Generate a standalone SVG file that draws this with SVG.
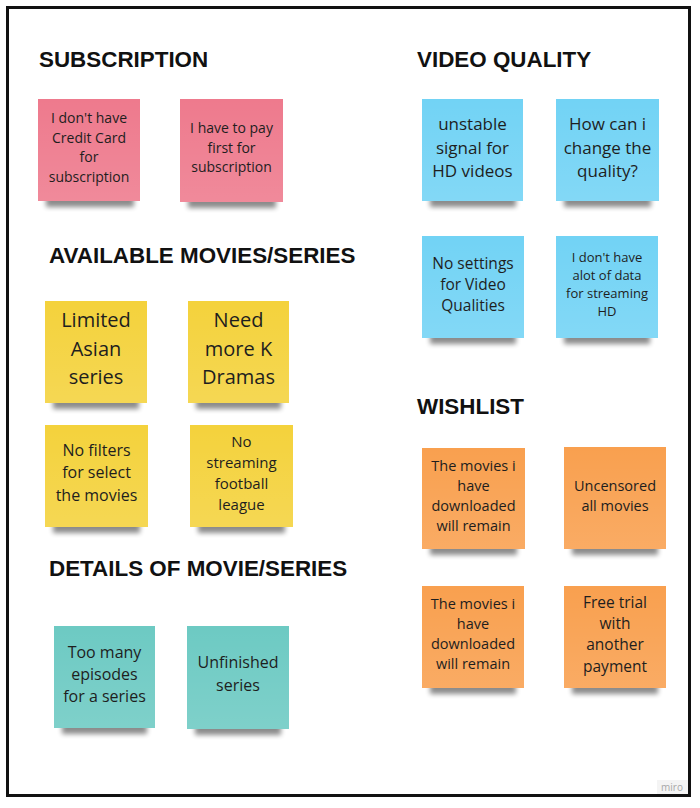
<svg xmlns="http://www.w3.org/2000/svg" width="700" height="808" viewBox="0 0 700 808">
<style>
.h{font-family:"Liberation Sans",Arial,sans-serif;font-weight:bold;font-size:22.4px;fill:#111}
.t{font-family:"Open Sans","Noto Sans",sans-serif;fill:#1e1e1e;text-anchor:middle}
.pink{fill:#EE7A8D}
.blue{fill:#72D3F5}
.yel{fill:#F4D23C}
.org{fill:#F9A04F}
.teal{fill:#6DCAC3}
.sh{fill:#000;opacity:0.45;filter:url(#blur)}
.gl{fill:url(#gloss)}
</style>
<defs>
<filter id="blur" x="-20%" y="-100%" width="140%" height="300%"><feGaussianBlur stdDeviation="2.8"/></filter>
<linearGradient id="gloss" x1="0" y1="0" x2="0" y2="1">
<stop offset="0" stop-color="#fff" stop-opacity="0"/>
<stop offset="1" stop-color="#fff" stop-opacity="0.12"/>
</linearGradient>
</defs>
<rect x="0" y="0" width="700" height="808" fill="#fff"/>
<rect x="7.5" y="7.5" width="682" height="788" fill="#fff" stroke="#111" stroke-width="3"/>

<text class="h" x="39" y="67">SUBSCRIPTION</text>
<text class="h" x="417" y="67">VIDEO QUALITY</text>
<text class="h" x="49" y="263">AVAILABLE MOVIES/SERIES</text>
<text class="h" x="417" y="414">WISHLIST</text>
<text class="h" x="49" y="576">DETAILS OF MOVIE/SERIES</text>

<g id="sub1">
<rect class="sh" x="46" y="195" width="88" height="12"/>
<rect class="pink" x="38" y="99" width="102" height="102"/>
<rect class="gl" x="38" y="99" width="102" height="102"/>
<text class="t" font-size="14"><tspan x="89" y="123">I don't have</tspan><tspan x="89" y="142.5">Credit Card</tspan><tspan x="89" y="162">for</tspan><tspan x="89" y="181.5">subscription</tspan></text>
</g>
<g id="sub2">
<rect class="sh" x="188" y="196" width="88" height="12"/>
<rect class="pink" x="180" y="99" width="103" height="103"/>
<rect class="gl" x="180" y="99" width="103" height="103"/>
<text class="t" font-size="14"><tspan x="231.5" y="133">I have to pay</tspan><tspan x="231.5" y="152.5">first for</tspan><tspan x="231.5" y="172">subscription</tspan></text>
</g>

<g id="vq1">
<rect class="sh" x="430" y="195" width="86" height="12"/>
<rect class="blue" x="422" y="99" width="101" height="102"/>
<rect class="gl" x="422" y="99" width="101" height="102"/>
<text class="t" font-size="17"><tspan x="472.5" y="130">unstable</tspan><tspan x="472.5" y="153.5">signal for</tspan><tspan x="472.5" y="177">HD videos</tspan></text>
</g>
<g id="vq2">
<rect class="sh" x="564" y="195" width="87" height="12"/>
<rect class="blue" x="556" y="99" width="103" height="102"/>
<rect class="gl" x="556" y="99" width="103" height="102"/>
<text class="t" font-size="17"><tspan x="607.5" y="130">How can i</tspan><tspan x="607.5" y="153.5">change the</tspan><tspan x="607.5" y="177">quality?</tspan></text>
</g>
<g id="vq3">
<rect class="sh" x="430" y="332" width="86" height="12"/>
<rect class="blue" x="422" y="236" width="102" height="102"/>
<rect class="gl" x="422" y="236" width="102" height="102"/>
<text class="t" font-size="15.5"><tspan x="473" y="268.5">No settings</tspan><tspan x="473" y="289.5">for Video</tspan><tspan x="473" y="311">Qualities</tspan></text>
</g>
<g id="vq4">
<rect class="sh" x="564" y="332" width="86" height="12"/>
<rect class="blue" x="556" y="236" width="102" height="102"/>
<rect class="gl" x="556" y="236" width="102" height="102"/>
<text class="t" font-size="13"><tspan x="607" y="261.5">I don't have</tspan><tspan x="607" y="279.5">alot of data</tspan><tspan x="607" y="297.5">for streaming</tspan><tspan x="607" y="315.5">HD</tspan></text>
</g>

<g id="av1">
<rect class="sh" x="53" y="397" width="86" height="12"/>
<rect class="yel" x="45" y="301" width="102" height="102"/>
<rect class="gl" x="45" y="301" width="102" height="102"/>
<text class="t" font-size="20"><tspan x="96" y="327">Limited</tspan><tspan x="96" y="355.5">Asian</tspan><tspan x="96" y="384">series</tspan></text>
</g>
<g id="av2">
<rect class="sh" x="196" y="397" width="85" height="12"/>
<rect class="yel" x="188" y="301" width="101" height="102"/>
<rect class="gl" x="188" y="301" width="101" height="102"/>
<text class="t" font-size="20"><tspan x="238.5" y="327">Need</tspan><tspan x="238.5" y="355.5">more K</tspan><tspan x="238.5" y="384">Dramas</tspan></text>
</g>
<g id="av3">
<rect class="sh" x="53" y="521" width="87" height="12"/>
<rect class="yel" x="45" y="425" width="103" height="102"/>
<rect class="gl" x="45" y="425" width="103" height="102"/>
<text class="t" font-size="16"><tspan x="96.5" y="455.5">No filters</tspan><tspan x="96.5" y="478">for select</tspan><tspan x="96.5" y="500.5">the movies</tspan></text>
</g>
<g id="av4">
<rect class="sh" x="198" y="521" width="87" height="12"/>
<rect class="yel" x="190" y="425" width="103" height="102"/>
<rect class="gl" x="190" y="425" width="103" height="102"/>
<text class="t" font-size="15"><tspan x="241.5" y="447">No</tspan><tspan x="241.5" y="468">streaming</tspan><tspan x="241.5" y="488.5">football</tspan><tspan x="241.5" y="509.5">league</tspan></text>
</g>

<g id="wl1">
<rect class="sh" x="430" y="543" width="87" height="12"/>
<rect class="org" x="422" y="448" width="103" height="101"/>
<rect class="gl" x="422" y="448" width="103" height="101"/>
<text class="t" font-size="14.5"><tspan x="473.5" y="471">The movies i</tspan><tspan x="473.5" y="491">have</tspan><tspan x="473.5" y="511">downloaded</tspan><tspan x="473.5" y="530.5">will remain</tspan></text>
</g>
<g id="wl2">
<rect class="sh" x="572" y="543" width="86" height="12"/>
<rect class="org" x="564" y="447" width="102" height="102"/>
<rect class="gl" x="564" y="447" width="102" height="102"/>
<text class="t" font-size="14.5"><tspan x="615" y="491">Uncensored</tspan><tspan x="615" y="510.5">all movies</tspan></text>
</g>
<g id="wl3">
<rect class="sh" x="430" y="682" width="86" height="12"/>
<rect class="org" x="422" y="586" width="102" height="102"/>
<rect class="gl" x="422" y="586" width="102" height="102"/>
<text class="t" font-size="14.5"><tspan x="473" y="609">The movies i</tspan><tspan x="473" y="629">have</tspan><tspan x="473" y="649">downloaded</tspan><tspan x="473" y="668.5">will remain</tspan></text>
</g>
<g id="wl4">
<rect class="sh" x="572" y="682" width="86" height="12"/>
<rect class="org" x="564" y="586" width="102" height="102"/>
<rect class="gl" x="564" y="586" width="102" height="102"/>
<text class="t" font-size="15.5"><tspan x="615" y="607.5">Free trial</tspan><tspan x="615" y="628.5">with</tspan><tspan x="615" y="650">another</tspan><tspan x="615" y="671.5">payment</tspan></text>
</g>

<g id="dt1">
<rect class="sh" x="62" y="722" width="85" height="12"/>
<rect class="teal" x="54" y="626" width="101" height="102"/>
<rect class="gl" x="54" y="626" width="101" height="102"/>
<text class="t" font-size="16"><tspan x="104.5" y="657.5">Too many</tspan><tspan x="104.5" y="680">episodes</tspan><tspan x="104.5" y="701.5">for a series</tspan></text>
</g>
<g id="dt2">
<rect class="sh" x="195" y="723" width="86" height="12"/>
<rect class="teal" x="187" y="626" width="102" height="103"/>
<rect class="gl" x="187" y="626" width="102" height="103"/>
<text class="t" font-size="16"><tspan x="238" y="667.5">Unfinished</tspan><tspan x="238" y="690.5">series</tspan></text>
</g>

<g id="watermark">
<rect x="657" y="780" width="31" height="14" fill="#f4f4f4"/>
<text x="672" y="791" font-family="'Open Sans','Noto Sans',sans-serif" font-size="10" fill="#a8a8a8" text-anchor="middle">miro</text>
</g>
</svg>
